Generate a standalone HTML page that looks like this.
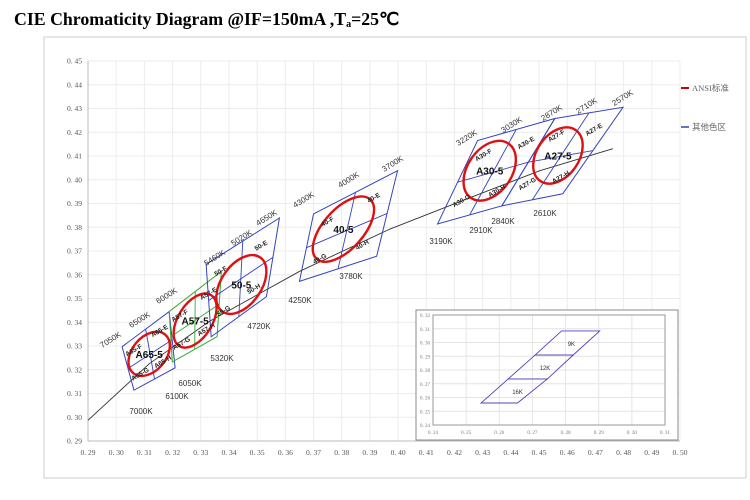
<!DOCTYPE html>
<html><head><meta charset="utf-8"><style>
body{margin:0;background:#fff;width:750px;height:500px;overflow:hidden}
svg{position:absolute;left:0;top:0}
.tk{font-family:"Liberation Serif",serif;font-size:7.5px;fill:#555}
.cct{font-family:"Liberation Sans",sans-serif;font-size:8px;fill:#333}
.ql{font-family:"Liberation Sans",sans-serif;font-size:6.5px;fill:#222;font-weight:bold}
.bl{font-family:"Liberation Sans",sans-serif;font-size:10px;fill:#111;font-weight:bold}
.it{font-family:"Liberation Serif",serif;font-size:5px;fill:#777}
</style></head><body>
<svg width="750" height="500">
<text x="14" y="25" font-family="Liberation Serif,serif" font-size="17.8" font-weight="bold">CIE Chromaticity Diagram @IF=150mA ,T<tspan font-size="10" dy="2">a</tspan><tspan dy="-2">=25℃</tspan></text>
<rect x="44" y="37" width="702" height="441" fill="none" stroke="#ccc"/>
<g id="grid"></g><g id="marks"></g><g id="labels"></g>
<g>
<line x1="681" y1="88" x2="689" y2="88" stroke="#c00" stroke-width="2"/>
<text x="692" y="91" font-family="Liberation Serif,'Noto Sans CJK SC',serif" font-size="8.5" fill="#666">ANSI标准</text>
<line x1="681" y1="127" x2="689" y2="127" stroke="#3344aa" stroke-width="1.5"/>
<text x="692" y="130" font-family="Liberation Serif,'Noto Sans CJK SC',serif" font-size="8.5" fill="#666">其他色区</text>
</g>
<g id="inset"></g>
</svg>
<script>
const xTicks=[0.29,0.30,0.31,0.32,0.33,0.34,0.35,0.36,0.37,0.38,0.39,0.40,0.41,0.42,0.43,0.44,0.45,0.46,0.47,0.48,0.49,0.50];
const yTicks=[0.29,0.30,0.31,0.32,0.33,0.34,0.35,0.36,0.37,0.38,0.39,0.40,0.41,0.42,0.43,0.44,0.45];
const locusX=[0.29,0.3117,0.3330,0.3650,0.3970,0.4254,0.4503,0.4762];
const locusY=[0.2987,0.3225,0.3403,0.3614,0.3792,0.3924,0.4038,0.4131];
const quadNames=['A65','A57','50','40','A30','A27'];
const quadX=[[0.3021,0.3188,0.3209,0.3063],[0.3188,0.3373,0.3358,0.3199],[0.3319,0.3579,0.3533,0.3337],[0.3700,0.3998,0.3924,0.3650],[0.4282,0.4556,0.4368,0.4140],[0.4556,0.4798,0.4584,0.4368]];
const quadY=[[0.3297,0.3445,0.3208,0.3114],[0.3445,0.3614,0.3339,0.3233],[0.3644,0.3839,0.3508,0.3339],[0.3856,0.4038,0.3678,0.3572],[0.4165,0.4258,0.3890,0.3814],[0.4258,0.4305,0.3941,0.3890]];
const ellNames=['A65-5','A57-5','50-5','40-5','A30-5','A27-5'];
const ellX=[0.3117,0.3280,0.3444,0.3806,0.4325,0.4567];
const ellY=[0.3267,0.3407,0.3559,0.3792,0.4038,0.4102];
const insetXTicks=[0.24,0.25,0.26,0.27,0.28,0.29,0.30,0.31];
const insetYTicks=[0.24,0.25,0.26,0.27,0.28,0.29,0.30,0.31,0.32];
const insetNames=['9K','12K','16K'];
const insetBandX=[[0.2788,0.2903,0.2823,0.2708],[0.2708,0.2823,0.2745,0.2627],[0.2627,0.2745,0.2655,0.2545]];
const insetBandY=[[0.3084,0.3084,0.2909,0.2909],[0.2909,0.2909,0.2735,0.2735],[0.2735,0.2735,0.2560,0.2560]];

const NS='http://www.w3.org/2000/svg';
const X=v=>88+(v-0.29)/0.21*592, Y=v=>441-(v-0.29)/0.16*380;
function mk(p,t,a){const e=document.createElementNS(NS,t);for(const k in a)e.setAttribute(k,a[k]);p.appendChild(e);return e;}
const grid=document.getElementById('grid'),marks=document.getElementById('marks'),labels=document.getElementById('labels');
xTicks.forEach(v=>{const l=mk(grid,'line',{x1:X(v),x2:X(v),y1:Y(0.45),y2:Y(0.29),stroke:'#ececec'});

const t=mk(grid,'text',{x:X(v),y:455,'text-anchor':'middle',class:'tk'});t.textContent=v.toFixed(2).replace('.','. ');
});
yTicks.forEach(v=>{const l=mk(grid,'line',{x1:X(0.29),x2:X(0.50),y1:Y(v),y2:Y(v),stroke:'#ececec'});

const t=mk(grid,'text',{x:82,y:Y(v)+2.5,'text-anchor':'end',class:'tk'});t.textContent=v.toFixed(2).replace('.','. ');
});
mk(grid,'line',{x1:88,x2:88,y1:Y(0.45),y2:441,stroke:'#bbb'});
mk(grid,'line',{x1:88,x2:680,y1:441,y2:441,stroke:'#bbb'});
let d=locusX.map((v,i)=>(i?'L':'M')+X(v)+','+Y(locusY[i])).join('');
const loc=mk(marks,'path',{d:d,fill:'none',stroke:'#333','stroke-width':0.9});

quadNames.forEach((n,i)=>{const qx=quadX[i],qy=quadY[i];const col=n==='A57'?'#3a3':'#3344bb';
const p=mk(marks,'polygon',{points:qx.map((v,j)=>X(v)+','+Y(qy[j])).join(' '),fill:'none',stroke:col,'stroke-width':1});

const m=(a,b)=>[(X(qx[a])+X(qx[b]))/2,(Y(qy[a])+Y(qy[b]))/2];
const a=m(0,1),b=m(3,2),c=m(0,3),e=m(1,2);
const l1=mk(marks,'line',{x1:a[0],y1:a[1],x2:b[0],y2:b[1],stroke:col,'stroke-width':0.9});

const l2=mk(marks,'line',{x1:c[0],y1:c[1],x2:e[0],y2:e[1],stroke:col,'stroke-width':0.9});

const cx=(X(qx[0])+X(qx[1])+X(qx[2])+X(qx[3]))/4,cy=(Y(qy[0])+Y(qy[1])+Y(qy[2])+Y(qy[3]))/4;
[['F',0],['E',1],['H',2],['G',3]].forEach(([s,k])=>{const tx=cx+(X(qx[k])-cx)*0.55,ty=cy+(Y(qy[k])-cy)*0.55+2;
const t=mk(labels,'text',{x:tx,y:ty,'text-anchor':'middle',class:'ql',transform:`rotate(-30 ${tx} ${ty})`});t.textContent=n+'-'+s;
});});
const ES=[[25,17,-50],[30,17,-58],[33,20,-55],[40,20,-48],[33,22,-55],[31,21,-55]];
ellNames.forEach((n,i)=>{const cx=X(ellX[i]),cy=Y(ellY[i]);
const e=mk(marks,'ellipse',{cx:cx,cy:cy,rx:ES[i][0],ry:ES[i][1],transform:`rotate(${ES[i][2]} ${cx} ${cy})`,fill:'none',stroke:'#d11','stroke-width':2.4});

const t=mk(labels,'text',{x:cx,y:cy+4,'text-anchor':'middle',class:'bl'});t.textContent=n;
});
const topL=[['7050K',112,342],['6500K',141,322],['6000K',168,298],['5460K',216,260],['5020K',243,240],['4650K',268,220],['4300K',305,202],['4000K',350,182],['3700K',394,166],['3220K',468,140],['3030K',513,127],['2870K',553,115],['2710K',588,108],['2570K',624,100]];
topL.forEach(([s,x,y])=>{const t=mk(labels,'text',{x:x,y:y,'text-anchor':'middle',class:'cct',transform:`rotate(-32 ${x} ${y})`});t.textContent=s;
});
const botL=[['7000K',141,414],['6100K',177,399],['6050K',190,386],['5320K',222,361],['4720K',259,329],['4250K',300,303],['3780K',351,279],['3190K',441,244],['2910K',481,233],['2840K',503,224],['2610K',545,216]];
botL.forEach(([s,x,y])=>{const t=mk(labels,'text',{x:x,y:y,'text-anchor':'middle',class:'cct'});t.textContent=s;
});
const ins=document.getElementById('inset');
const ib=mk(ins,'rect',{x:416,y:310,width:262,height:130,fill:'#fff',stroke:'#888','stroke-width':1});

const IX=v=>433+(v-0.24)/0.07*232, IY=v=>425-(v-0.24)/0.08*110;
insetXTicks.forEach(v=>{mk(ins,'line',{x1:IX(v),x2:IX(v),y1:IY(0.32),y2:IY(0.24),stroke:'#e4e4e4'});
const t=mk(ins,'text',{x:IX(v),y:434,'text-anchor':'middle',class:'it'});t.textContent=v.toFixed(2).replace('.','. ');
});
insetYTicks.forEach(v=>{mk(ins,'line',{x1:IX(0.24),x2:IX(0.31),y1:IY(v),y2:IY(v),stroke:'#e4e4e4'});
const t=mk(ins,'text',{x:430,y:IY(v)+2,'text-anchor':'end',class:'it'});t.textContent=v.toFixed(2).replace('.','. ');
});
mk(ins,'rect',{x:433,y:315,width:232,height:110,fill:'none',stroke:'#999'});
insetNames.forEach((n,i)=>{const bx=insetBandX[i],by=insetBandY[i];
const p=mk(ins,'polygon',{points:bx.map((v,j)=>IX(v)+','+IY(by[j])).join(' '),fill:'none',stroke:'#5544bb','stroke-width':0.9});

const cx=(IX(bx[0])+IX(bx[1])+IX(bx[2])+IX(bx[3]))/4,cy=(IY(by[0])+IY(by[2]))/2;
const t=mk(ins,'text',{x:cx+4,y:cy+3,'text-anchor':'middle','font-family':'Liberation Sans,sans-serif','font-size':6,fill:'#333'});t.textContent=n;
});
</script>
</body></html>
